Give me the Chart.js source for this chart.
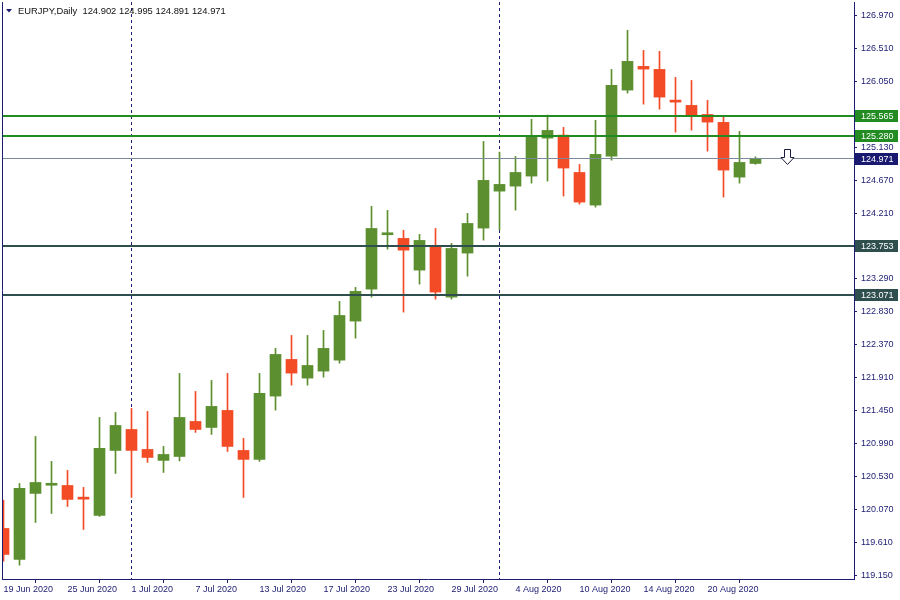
<!DOCTYPE html>
<html><head><meta charset="utf-8">
<script src="https://cdn.jsdelivr.net/npm/chart.js@4.4.1/dist/chart.umd.min.js"></script>
<style>html,body{margin:0;padding:0;background:#fff;overflow:hidden}</style>
</head><body>
<canvas id="c" width="900" height="600"></canvas>
<script>
const symbol = 'EURJPY';
const timeframe = 'Daily';
const dates = ['19 Jun 2020','22 Jun 2020','23 Jun 2020','24 Jun 2020','25 Jun 2020','26 Jun 2020','29 Jun 2020','30 Jun 2020',
  '1 Jul 2020','2 Jul 2020','3 Jul 2020','6 Jul 2020','7 Jul 2020','8 Jul 2020','9 Jul 2020','10 Jul 2020',
  '13 Jul 2020','14 Jul 2020','15 Jul 2020','16 Jul 2020','17 Jul 2020','20 Jul 2020','21 Jul 2020','22 Jul 2020',
  '23 Jul 2020','24 Jul 2020','27 Jul 2020','28 Jul 2020','29 Jul 2020','30 Jul 2020','31 Jul 2020','3 Aug 2020',
  '4 Aug 2020','5 Aug 2020','6 Aug 2020','7 Aug 2020','10 Aug 2020','11 Aug 2020','12 Aug 2020','13 Aug 2020',
  '14 Aug 2020','17 Aug 2020','18 Aug 2020','19 Aug 2020','20 Aug 2020','21 Aug 2020','24 Aug 2020','25 Aug 2020'];
const opens = [119.806,119.373,120.295,120.409,120.406,120.225,119.987,120.895,121.188,120.909,
  120.756,120.811,121.300,121.216,121.454,120.895,120.770,121.654,122.166,121.905,
  122.003,122.156,122.701,123.148,123.907,123.856,123.413,123.744,123.036,123.651,
  124.000,124.516,124.586,124.726,125.256,125.298,124.777,124.321,125.005,125.927,
  126.258,126.216,125.787,125.713,125.587,125.476,124.712,124.902];
const highs = [120.201,120.434,121.091,120.742,120.616,120.379,121.356,121.426,121.482,121.440,
  120.951,121.971,121.719,121.873,121.971,121.063,121.971,122.320,122.501,122.501,
  122.571,122.976,123.172,124.303,124.247,123.968,123.912,123.995,123.786,124.205,
  125.210,125.061,125.001,125.518,125.578,125.406,124.889,125.504,126.216,126.761,
  126.481,126.467,126.104,126.062,125.783,125.573,125.350,124.995];
const lows = [119.349,119.293,119.890,120.015,120.113,119.792,119.974,120.574,120.239,120.728,
  120.588,120.749,121.147,121.119,120.881,120.239,120.742,121.458,121.807,121.807,
  121.919,122.114,122.463,123.036,123.706,122.827,123.218,123.008,123.008,123.329,
  123.832,123.972,124.251,124.628,124.656,124.447,124.335,124.293,124.949,125.885,
  125.731,125.661,125.340,125.368,125.075,124.433,124.628,124.891];
const closes = [119.443,120.365,120.448,120.420,120.211,120.215,120.923,121.244,120.895,120.797,
  120.839,121.356,121.188,121.510,120.951,120.770,121.691,122.236,121.975,122.082,
  122.320,122.780,123.116,123.995,123.926,123.692,123.828,123.106,123.716,124.065,
  124.666,124.610,124.777,125.284,125.364,124.838,124.363,125.029,125.992,126.328,
  126.220,125.829,125.759,125.564,125.480,124.810,124.917,124.971];
const xTickIndices = [0,4,8,12,16,20,24,28,32,36,40,44];
const yTickValues = [119.150,119.610,120.070,120.530,120.990,121.450,121.910,122.370,122.830,
  123.290,123.750,124.210,124.670,125.130,125.590,126.050,126.510,126.970];
const levelPrices = [125.565,125.280,124.971,123.753,123.071];
const separatorDates = ['1 Jul 2020','3 Aug 2020'];
const arrowIndex = 49;
const arrowPrice = 125.10;

// styling
const NAVY = '#1c1c72';
const UP = '#5b8f2f', DOWN = '#f34b25';
const FONT = '"Liberation Sans", Arial, sans-serif';
const levelLineColors = ['#228b22','#228b22','#7a8a9a','#2f4f4f','#2f4f4f'];
const levelLineWidths = [2,2,1,2,2];
const levelBoxColors = ['#228b22','#228b22','#191970','#2f4f4f','#2f4f4f'];

const candleColors = opens.map((o,i)=> closes[i] >= o ? UP : DOWN);
const bodyData = opens.map((o,i)=>({x:i, y:[o, closes[i]]}));
const wickData = lows.map((l,i)=>({x:i, y:[l, highs[i]]}));

const decor = {
  id:'decor',
  beforeDatasetsDraw(chart){
    const {ctx, chartArea:a, scales:{x}} = chart;
    ctx.save();
    ctx.strokeStyle = NAVY; ctx.lineWidth = 1; ctx.setLineDash([3,3]);
    separatorDates.forEach(d=>{
      const px = Math.floor(x.getPixelForValue(dates.indexOf(d))) + 0.5;
      ctx.beginPath(); ctx.moveTo(px, a.top); ctx.lineTo(px, a.bottom); ctx.stroke();
    });
    ctx.restore();
  },
  afterDatasetsDraw(chart){
    const {ctx, chartArea:a, scales:{x,y}} = chart;
    ctx.save();
    ctx.beginPath(); ctx.rect(a.left, a.top, a.right-a.left, a.bottom-a.top); ctx.clip();
    levelPrices.forEach((p,k)=>{
      const w = levelLineWidths[k];
      const raw = y.getPixelForValue(p);
      const py = w % 2 ? Math.floor(raw)+0.5 : Math.round(raw);
      ctx.strokeStyle = levelLineColors[k]; ctx.lineWidth = w;
      ctx.beginPath(); ctx.moveTo(a.left, py); ctx.lineTo(a.right, py); ctx.stroke();
    });
    // sell arrow
    const ax = x.getPixelForValue(arrowIndex), ay = Math.round(y.getPixelForValue(arrowPrice))+0.5;
    ctx.beginPath();
    ctx.moveTo(ax-3, ay); ctx.lineTo(ax+3, ay); ctx.lineTo(ax+3, ay+8); ctx.lineTo(ax+6.5, ay+8);
    ctx.lineTo(ax, ay+15); ctx.lineTo(ax-6.5, ay+8); ctx.lineTo(ax-3, ay+8); ctx.closePath();
    ctx.fillStyle = '#fff'; ctx.fill();
    ctx.strokeStyle = '#1a1a3a'; ctx.lineWidth = 1; ctx.stroke();
    ctx.restore();
    // left border
    ctx.save();
    ctx.strokeStyle = NAVY; ctx.lineWidth = 1;
    ctx.beginPath(); ctx.moveTo(a.left+0.5, a.top); ctx.lineTo(a.left+0.5, a.bottom); ctx.stroke();
    ctx.restore();
  },
  afterDraw(chart){
    const {ctx, chartArea:a, scales:{y}} = chart;
    ctx.save();
    ctx.font = '9px ' + FONT;
    ctx.textBaseline = 'middle';
    levelPrices.forEach((p,k)=>{
      const cy = Math.round(y.getPixelForValue(p));
      ctx.fillStyle = levelBoxColors[k];
      ctx.fillRect(a.right+1, cy-6, 43, 12);
      ctx.fillStyle = '#fff';
      ctx.fillText(p.toFixed(3), a.right+7, cy+0.5);
    });
    // title
    const last = opens.length-1;
    ctx.fillStyle = NAVY;
    ctx.beginPath(); ctx.moveTo(6,9); ctx.lineTo(12,9); ctx.lineTo(9,12.5); ctx.closePath(); ctx.fill();
    ctx.fillStyle = '#111';
    ctx.font = '9.4px ' + FONT;
    ctx.fillText(symbol + ',' + timeframe + '  ' + opens[last].toFixed(3) + ' ' + highs[last].toFixed(3) + ' ' +
      lows[last].toFixed(3) + ' ' + closes[last].toFixed(3), 18, 11);
    ctx.restore();
  }
};

new Chart(document.getElementById('c'), {
  type:'bar',
  data:{ datasets:[
    {data:bodyData, backgroundColor:candleColors, barThickness:11, minBarLength:2, grouped:false, order:0, clip:0, borderWidth:0},
    {data:wickData, backgroundColor:candleColors, barThickness:1, grouped:false, order:1, clip:0, borderWidth:0}
  ]},
  options:{
    responsive:false, animation:false,
    layout:{padding:{left:2, top:2, right:0, bottom:0}},
    plugins:{legend:{display:false}, tooltip:{enabled:false}},
    scales:{
      x:{type:'linear', min:-0.09375, max:53.15625, offset:false,
        afterBuildTicks:s=>{ s.ticks = xTickIndices.map(v=>({value:v})); },
        afterFit:s=>{ s.height = 21; s.paddingLeft = 0; s.paddingRight = 0; },
        ticks:{autoSkip:false, maxRotation:0, align:'start', padding:1, color:NAVY,
          font:{family:FONT, size:9}, callback:v=> dates[v] !== undefined ? dates[v] : ''},
        grid:{drawOnChartArea:false, drawTicks:true, tickLength:4, color:NAVY},
        border:{display:true, color:NAVY}},
      y:{type:'linear', position:'right', min:119.100, max:127.157,
        afterBuildTicks:s=>{ s.ticks = yTickValues.map(v=>({value:v})); },
        afterFit:s=>{ s.width = 46; s.paddingTop = 0; s.paddingBottom = 0; },
        ticks:{autoSkip:false, padding:4, color:NAVY, font:{family:FONT, size:9},
          callback:v=> Number(v).toFixed(3)},
        grid:{drawOnChartArea:false, drawTicks:true, tickLength:3, color:NAVY},
        border:{display:true, color:NAVY}}
    }
  },
  plugins:[decor]
});
</script>
</body></html>
